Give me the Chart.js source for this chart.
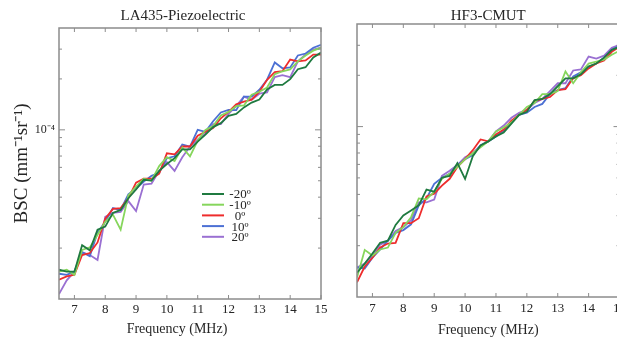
<!DOCTYPE html>
<html>
<head>
<meta charset="utf-8">
<script src="https://cdn.jsdelivr.net/npm/chart.js@4.4.1/dist/chart.umd.min.js"></script>
<style>
  html, body { margin: 0; padding: 0; background: #fff; overflow: hidden; }
  #wrap { position: relative; width: 617px; height: 339px; overflow: hidden; }
  canvas { position: absolute; top: 0; }
  #laChart { left: 0; }
  #cmutChart { left: 330px; }
</style>
</head>
<body>
<div id="wrap">
  <canvas id="laChart" width="340" height="339"></canvas>
  <canvas id="cmutChart" width="300" height="339"></canvas>
</div>
<script>
const freqMHz = [6.5, 6.75, 7, 7.25, 7.5, 7.75, 8, 8.25, 8.5, 8.75, 9, 9.25, 9.5, 9.75, 10, 10.25, 10.5,
  10.75, 11, 11.25, 11.5, 11.75, 12, 12.25, 12.5, 12.75, 13, 13.25, 13.5, 13.75, 14, 14.25, 14.5, 14.75, 15];
const freqTicks = [7, 8, 9, 10, 11, 12, 13, 14, 15];
const bscTicks = [2e-5, 3e-5, 4e-5, 5e-5, 6e-5, 7e-5, 8e-5, 9e-5, 1e-4, 2e-4, 3e-4];
const BSC_MIN = 1e-5;
const BSC_MAX = 4e-4;
const UNIT = 1e-5; // series below are in 1e-5 mm^-1 sr^-1

const angleLabels = ['-20º', '-10º', '0º', '10º', '20º'];
const angleColors = ['#1f7a40', '#86d65c', '#ee2c2c', '#4c70d4', '#9a70d2'];

// LA435-Piezoelectric
const la_m20 = [1.49, 1.45, 1.45, 2.08, 1.94, 2.57, 2.68, 3.23, 3.36, 3.94, 4.44, 5.07, 5.01, 5.72, 6.28, 6.80, 7.66,
  7.66, 8.52, 9.36, 10.38, 10.95, 12.09, 12.41, 13.57, 14.49, 15.10, 17.32, 18.43, 18.43, 19.94, 22.83, 23.45, 26.77, 28.63];
const la_m10 = [1.45, 1.49, 1.39, 1.95, 2.02, 2.40, 2.86, 3.15, 2.57, 4.10, 4.62, 5.14, 5.01, 6.11, 6.89, 6.53, 7.87,
  6.97, 8.64, 10.0, 10.52, 12.18, 12.76, 13.8, 13.94, 16.12, 16.8, 17.78, 21.34, 22.2, 22.79, 25.4, 27.52, 29.38, 30.59];
const la_0 = [1.30, 1.36, 1.39, 1.82, 1.87, 2.16, 2.98, 3.41, 3.45, 3.94, 4.87, 5.14, 5.14, 5.50, 7.27, 7.17, 7.97,
  7.97, 9.23, 9.74, 10.24, 11.7, 12.76, 14.17, 14.7, 15.09, 16.8, 19.78, 21.91, 22.2, 26.02, 25.4, 25.75, 27.87, 27.87];
const la_p10 = [1.41, 1.39, 1.45, 1.89, 1.79, 2.47, 2.86, 3.45, 3.36, 4.16, 4.50, 4.94, 5.35, 5.57, 6.80, 6.98, 8.19,
  7.97, 10.0, 9.74, 11.24, 12.67, 13.1, 13.08, 15.71, 15.7, 17.25, 19.78, 25.03, 23.11, 23.4, 27.51, 28.27, 30.6, 31.86];
const la_p20 = [1.07, 1.29, 1.45, 1.89, 1.82, 1.70, 3.06, 3.23, 3.27, 3.79, 3.31, 4.75, 4.81, 5.72, 6.45, 5.72, 6.89,
  7.97, 8.76, 9.48, 10.8, 10.8, 12.42, 13.8, 15.71, 15.09, 16.36, 16.63, 20.5, 21.05, 20.48, 25.4, 27.9, 29.78, 30.59];

// HF3-CMUT
const cmut_m20 = [1.39, 1.57, 1.80, 2.08, 2.14, 2.65, 3.01, 3.22, 3.45, 4.27, 4.15, 5.01, 5.14, 6.11, 4.93, 6.71, 7.76,
  8.19, 8.76, 9.24, 10.41, 11.73, 12.21, 14.32, 14.52, 15.52, 17.25, 19.20, 19.20, 20.26, 22.53, 23.45, 25.40, 28.22, 29.39];
const cmut_m10 = [1.30, 1.89, 1.75, 1.90, 1.95, 2.38, 2.57, 2.94, 3.79, 3.74, 4.15, 4.94, 5.28, 5.80, 6.44, 6.98, 7.56,
  8.19, 9.36, 9.87, 10.55, 11.73, 13.05, 13.76, 15.52, 15.52, 16.14, 21.07, 17.97, 20.80, 23.45, 24.08, 24.74, 26.41, 27.86];
const cmut_0 = [1.22, 1.51, 1.70, 1.95, 2.06, 2.08, 2.71, 2.71, 2.90, 3.89, 4.04, 4.50, 4.94, 5.80, 6.44, 7.27, 8.40,
  8.19, 8.99, 9.61, 10.83, 11.73, 12.54, 14.13, 14.52, 14.91, 16.36, 16.58, 19.20, 19.99, 21.94, 23.45, 24.41, 27.48, 29.39];
const cmut_p10 = [1.49, 1.47, 1.70, 1.90, 2.14, 2.38, 2.47, 2.67, 3.45, 3.79, 4.61, 5.01, 5.28, 5.95, 6.44, 6.80, 7.76,
  8.19, 8.76, 9.49, 10.55, 11.73, 12.05, 13.04, 13.59, 15.52, 16.36, 16.81, 19.72, 20.80, 22.53, 23.45, 25.40, 28.22, 29.77];
const cmut_p20 = [1.49, 1.57, 1.75, 2.03, 2.14, 2.44, 2.57, 2.82, 3.59, 3.59, 3.73, 5.14, 5.50, 5.95, 6.61, 6.98, 7.76,
  8.19, 9.36, 10.14, 11.27, 12.05, 12.54, 13.76, 14.52, 16.16, 17.96, 17.96, 21.35, 21.65, 25.73, 25.07, 26.09, 28.99, 30.18];

const serif = "'Liberation Serif', 'Times New Roman', serif";
const ink = '#262626';

// frame, inward ticks, panel title, x title and legend
const decor = {
  id: 'decor',
  afterDraw(chart, args, opts) {
    const {ctx, chartArea: a, scales: {x, y}} = chart;
    ctx.save();
    ctx.strokeStyle = '#8c8c8c';
    ctx.lineWidth = 1.5;
    ctx.strokeRect(a.left, a.top, a.right - a.left, a.bottom - a.top);
    ctx.lineWidth = 1;
    ctx.beginPath();
    x.ticks.forEach(t => {
      const px = x.getPixelForValue(t.value);
      ctx.moveTo(px, a.top); ctx.lineTo(px, a.top + 4);
      ctx.moveTo(px, a.bottom); ctx.lineTo(px, a.bottom - 4);
    });
    y.ticks.forEach(t => {
      const py = y.getPixelForValue(t.value);
      const len = t.value === 1e-4 ? 6 : 3;
      ctx.moveTo(a.left, py); ctx.lineTo(a.left + len, py);
      ctx.moveTo(a.right, py); ctx.lineTo(a.right - len, py);
    });
    ctx.stroke();

    const cx = (a.left + a.right) / 2;
    ctx.fillStyle = ink;
    ctx.textAlign = 'center';
    ctx.textBaseline = 'alphabetic';
    ctx.font = `15px ${serif}`;
    ctx.fillText(opts.title, cx + opts.titleShift, 20);
    ctx.font = `14px ${serif}`;
    ctx.fillText('Frequency (MHz)', cx + opts.xTitleShift, opts.xTitleY);

    if (opts.legend) {
      const {x0, x1, y0, step, labelX} = opts.legend;
      ctx.font = `13px ${serif}`;
      ctx.textBaseline = 'middle';
      chart.data.datasets.forEach((ds, i) => {
        const ly = y0 + i * step;
        ctx.strokeStyle = ds.borderColor;
        ctx.lineWidth = 2;
        ctx.beginPath();
        ctx.moveTo(x0, ly); ctx.lineTo(x1, ly);
        ctx.stroke();
        ctx.fillText(ds.label, labelX, ly + 1);
      });
    }
    ctx.restore();
  }
};

function makeDatasets(series) {
  return series.map((vals, i) => ({
    label: angleLabels[i],
    data: vals.map((v, k) => ({x: freqMHz[k], y: v * UNIT})),
    borderColor: angleColors[i],
    backgroundColor: angleColors[i],
    borderWidth: 1.8,
    pointRadius: 0,
    tension: 0
  }));
}

function makeChart(id, series, cfg) {
  return new Chart(document.getElementById(id), {
    type: 'line',
    data: { datasets: makeDatasets(series) },
    plugins: [decor],
    options: {
      responsive: false,
      animation: false,
      events: [],
      layout: { padding: cfg.padding },
      plugins: {
        legend: { display: false },
        tooltip: { enabled: false },
        decor: cfg.decor
      },
      scales: {
        x: {
          type: 'linear',
          min: 6.5,
          max: 15,
          grid: { display: false, drawTicks: false },
          border: { display: false },
          afterBuildTicks: s => { s.ticks = freqTicks.map(v => ({value: v})); },
          afterFit: s => { s.height = cfg.xHeight; },
          ticks: {
            autoSkip: false,
            maxRotation: 0,
            padding: cfg.xTickPad,
            color: ink,
            font: { family: serif, size: 13 },
            callback: v => String(v)
          }
        },
        y: {
          type: 'logarithmic',
          min: BSC_MIN,
          max: BSC_MAX,
          grid: { display: false, drawTicks: false },
          border: { display: false },
          afterBuildTicks: s => { s.ticks = bscTicks.map(v => ({value: v})); },
          afterFit: s => { s.width = cfg.yWidth; },
          title: {
            display: cfg.yTitle,
            text: 'BSC (mm⁻¹sr⁻¹)',
            color: ink,
            font: { family: serif, size: 19 },
            padding: { top: 11, bottom: 0 }
          },
          ticks: {
            display: cfg.yTitle,
            autoSkip: false,
            padding: 4,
            color: ink,
            font: { family: serif, size: 12 },
            callback: v => (v === 1e-4 ? '10⁻⁴' : '')
          }
        }
      }
    }
  });
}

window.addEventListener('DOMContentLoaded', () => {
  makeChart('laChart', [la_m20, la_m10, la_0, la_p10, la_p20], {
    padding: { left: 0, top: 28, right: 19, bottom: 0 },
    xHeight: 40, yWidth: 59, xTickPad: 3, yTitle: true,
    decor: {
      title: 'LA435-Piezoelectric', titleShift: -7, xTitleShift: -13, xTitleY: 333,
      legend: { x0: 202, x1: 224, y0: 194, step: 10.7, labelX: 240 }
    }
  });
  makeChart('cmutChart', [cmut_m20, cmut_m10, cmut_0, cmut_p10, cmut_p20], {
    padding: { left: 0, top: 24, right: 10, bottom: 0 },
    xHeight: 42, yWidth: 27, xTickPad: 4, yTitle: false,
    decor: { title: 'HF3-CMUT', titleShift: 0, xTitleShift: 0, xTitleY: 334, legend: null }
  });
});
</script>
</body>
</html>
